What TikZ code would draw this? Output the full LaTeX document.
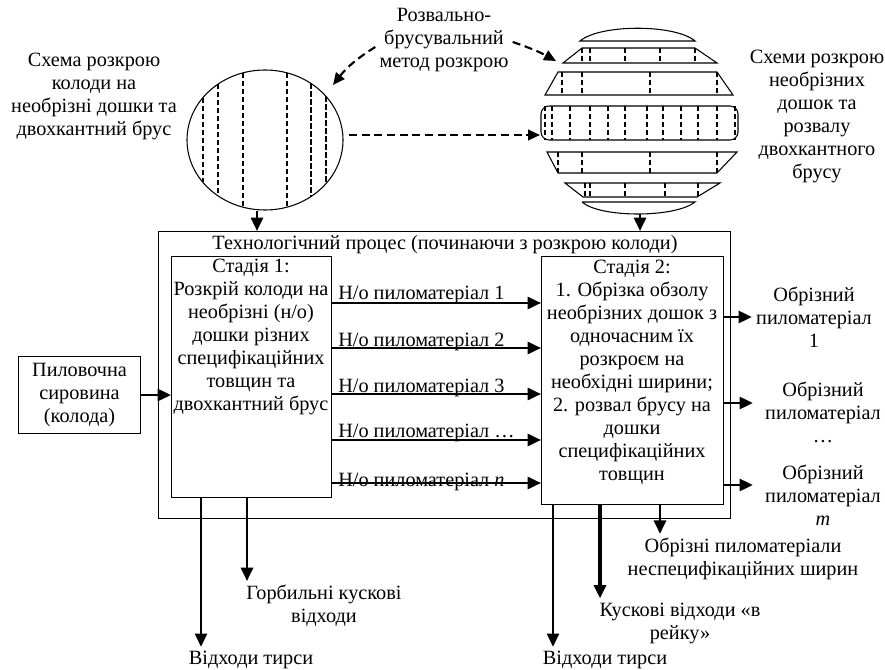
\documentclass[tikz,border=0pt]{standalone}
\usepackage{fontspec}
\setmainfont{Liberation Serif}
\usepackage{tikz}
\usetikzlibrary{arrows.meta}
\usetikzlibrary{shapes.geometric}

\begin{document}
\begin{tikzpicture}[
	x=0.75pt, y=-0.75pt,
	every node/.style={font=\fontsize{15.2}{17.25}\selectfont, align=center, inner sep=3pt},
	block/.style={draw, line width=0.8pt, anchor=north west},
	flow/.style={-{Triangle[length=10pt, width=9pt]}, line width=2pt},
	cutflow/.style={-{Triangle[length=9pt, width=8pt]}, line width=1.6pt, dash pattern=on 6pt off 3.5pt},
	cut/.style={line width=1.4pt, dash pattern=on 4pt off 2pt},
	slabline/.style={line width=0.8pt}
]
	\useasboundingbox (0,0) rectangle (885,670);

	\node[block, minimum width=429pt, minimum height=215.25pt] (outer) at (158,231) {};
	\node[block, minimum width=120pt, minimum height=180.75pt] (stageA) at (171,256) {};
	\node[block, minimum width=136.5pt, minimum height=186pt] (stageB) at (541,256) {};
	\node[block, minimum width=91.5pt, minimum height=57.75pt] (raw) at (18,356) {Пиловочна\\сировина\\(колода)};

	\node (title) at (445,245) {Технологічний процес (починаючи з розкрою колоди)};
	\node (textA) at (251,337) {Стадія 1:\\Розкрій колоди на\\необрізні (н/о)\\дошки різних\\специфікаційних\\товщин та\\двохкантний брус};
	\node (textB) at (632,372) {Стадія 2:\\1. Обрізка обзолу\\необрізних дошок з\\одночасним їх\\розкроєм на\\необхідні ширини;\\2. розвал брусу на\\дошки\\специфікаційних\\товщин};

	\node[draw, ellipse, line width=0.8pt, minimum width=117pt, minimum height=105pt, inner sep=0pt] (logA) at (265,140) {};
	\foreach \x/\w in {203/1.4pt, 218/1.4pt, 243/0.8pt, 287/1.1pt, 311/1.4pt, 326/1.4pt}{
		\pgfmathsetmacro\h{70*sqrt(1-((\x-265)/78)^2)}
		\draw[cut, line width=\w]
			(\x,{140-\h}) -- (\x,{140+\h});
	}

	\draw[slabline]
		(580,41) .. controls (600,24) and (675,24) .. (695,41) -- cycle;
	\draw[slabline]
		(582,48) -- (695,48) -- (717,63) -- (563,63) -- cycle;
	\draw[slabline]
		(558,72) -- (717,72) -- (733,95) -- (545,95) -- cycle;
	\draw[slabline, rounded corners=6pt]
		(541,106) rectangle (738,140);
	\draw[slabline]
		(547,152) -- (737,152) -- (717,173) -- (558,173) -- cycle;
	\draw[slabline]
		(565,183) -- (720,183) -- (697,197) -- (583,197) -- cycle;
	\draw[slabline]
		(582,202) -- (695,202) .. controls (675,218) and (600,218) .. (582,202);
	\foreach \top/\bot/\xs in {48/63/{582,590,625,660,695}, 72/95/{562,582,650,717}, 106/140/{545,552,570,590,608,625,647,663,681,698,717,735}, 152/173/{558,582,650,717}, 183/197/{585,590,625,665,698}}{
		\foreach \x in \xs{
			\draw[cut]
				(\x,\top) -- (\x,\bot);
		}
	}

	\coordinate (logB) at (640,214);
	\coordinate (midrow) at (540,135);
	\coordinate (rowtip) at (556,61);
	\coordinate (tipA) at (333,85);

	\node (method) at (444,40) {Розвально-\\брусувальний\\метод розкрою};
	\node (capA) at (94,96) {Схема розкрою\\колоди на\\необрізні дошки та\\двохкантний брус};
	\node (capB) at (817,116.5) {Схеми розкрою\\необрізних\\дошок та\\розвалу\\двохкантного\\брусу};

	\draw[cutflow] (method.west |- 0,47) to[bend right=10] (tipA);
	\draw[cutflow] (method.east |- 0,42) to[bend left=5] (rowtip);
	\draw[cutflow, shorten <=4pt] (logA.east |- midrow) -- (midrow);

	\draw[flow] (logA.south -| 257,0) -- (outer.north -| 257,0);
	\draw[flow] (logB) -- (outer.north -| logB);
	\draw[flow] (raw.east) -- (raw.east -| stageA.west);

	\foreach \y/\b/\t in {303/300/1, 348/346/2, 394/392/3, 440/437/\dots, 483/486/\textit{n}}{
		\draw[flow]
			(stageA.east |- 0,\y) -- (stageB.west |- 0,\y);
		\node[anchor=base west, inner sep=0pt] (lbl\y) at (338,\b) {Н/о пиломатеріал \t};
	}

	\node (outA) at (814,317) {Обрізний\\пиломатеріал\\1};
	\node (outB) at (823,412) {Обрізний\\пиломатеріал\\\dots};
	\node (outC) at (823,495) {Обрізний\\пиломатеріал\\\textit{m}};
	\draw[flow] (stageB.east |- outA) -- (outA.west);
	\draw[flow, shorten >=6pt] (stageB.east |- 0,403) -- (outB.west |- 0,403);
	\draw[flow, shorten >=6pt] (stageB.east |- 0,485) -- (outC.west |- 0,485);

	\node (sawA) at (251,660) {Відходи тирси};
	\node (slab) at (324,606) {Горбильні кускові\\відходи};
	\node (sawB) at (605,660) {Відходи тирси};
	\node (rail) at (680,623) {Кускові відходи «в\\рейку»};
	\node (notstd) at (743,559) {Обрізні пиломатеріали\\неспецифікаційних ширин};

	\draw[flow] (stageA.south -| 201,0) -- (sawA.north -| 201,0);
	\draw[flow] (stageA.south -| 247,0) -- (slab.north -| 247,0);
	\draw[flow] (stageB.south -| 553,0) -- (sawB.north -| 553,0);
	\draw[flow, line width=2.6pt] (stageB.south -| 600,0) -- (rail.north -| 600,0);
	\draw[flow] (stageB.south -| 660,0) -- (notstd.north -| 660,0);
\end{tikzpicture}
\end{document}
